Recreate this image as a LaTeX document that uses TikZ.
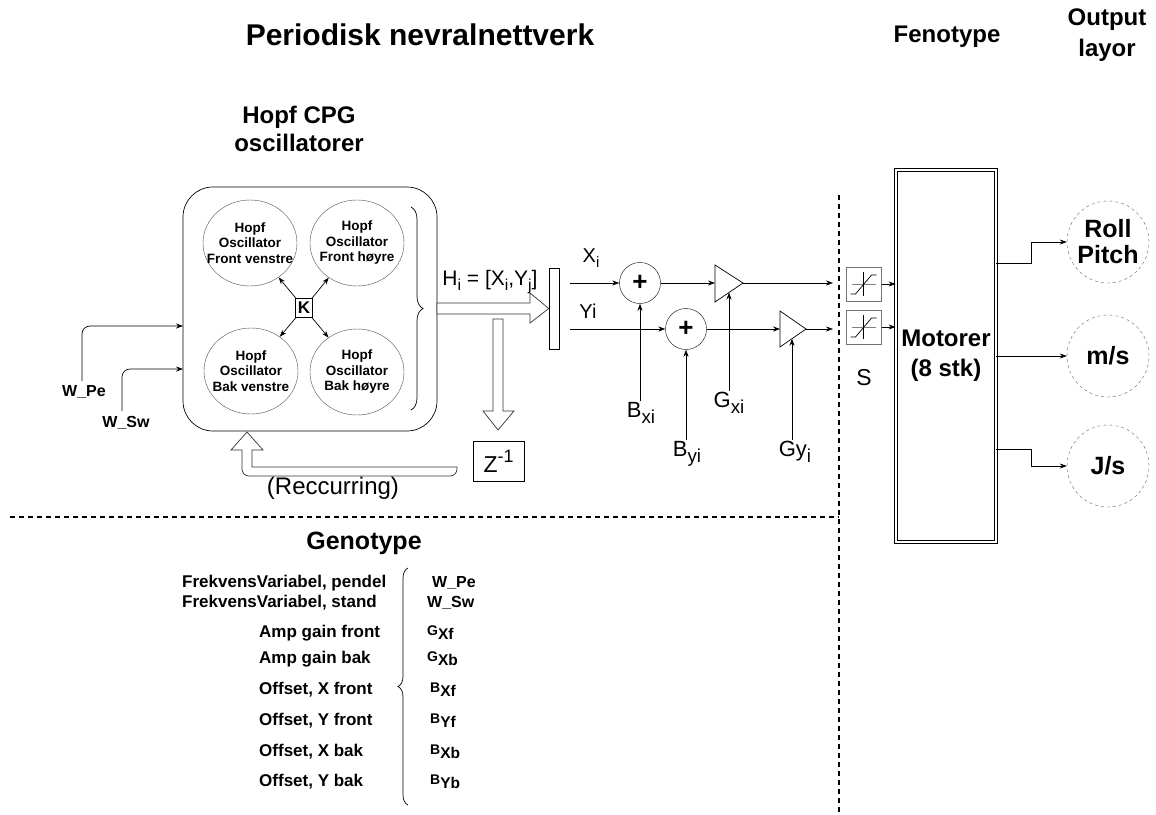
\documentclass[tikz,border=0pt]{standalone}
\usepackage{fontspec}
\setmainfont{Liberation Sans}
\usetikzlibrary{arrows.meta,shapes.geometric,decorations.pathreplacing}
\newcommand\fsz[2]{\fontsize{#1}{#2}\selectfont}
\newcommand\sbs[1]{\raisebox{-0.28em}{\scalebox{0.75}{#1}}}
\newcommand\sbl[1]{\raisebox{-0.28em}{\scalebox{0.85}{#1}}}
\newcommand\sps[1]{\raisebox{0.42em}{\scalebox{0.78}{#1}}}
\newcommand\gx[2]{{\fsz{14}{14}#1}\raisebox{-4pt}{\fsz{15.5}{15.5}\bfseries #2}}
\begin{document}
\begin{tikzpicture}[x=1pt,y=-1pt,
  ar/.style={-{Stealth[length=7pt,width=5pt]}, line width=0.7pt},
  osci/.style={draw=black!70, ellipse, minimum width=94, minimum height=86, inner sep=0},
  osctxt/.style={align=center, inner sep=0, font=\fsz{13.5}{15.5}\bfseries},
  hollow/.style={draw=black!80, fill=white, line width=0.7pt},
  sumc/.style={draw, circle, minimum size=41, inner sep=0, font=\fsz{26}{26}\bfseries},
  sig/.style={font=\fsz{20}{20}, inner sep=1pt},
  par/.style={font=\fsz{22}{22}, inner sep=1pt},
  outc/.style={draw=black!60, dashed, circle, minimum size=82, inner sep=0, align=center, font=\fsz{25}{26}\bfseries},
  dashline/.style={dash pattern=on 5pt off 4pt, line width=1.6pt},
  gl/.style={anchor=west, font=\fsz{17}{17}\bfseries, inner sep=0},
  gr/.style={anchor=west, font=\fsz{16}{16}\bfseries, inner sep=0}
]
\useasboundingbox (0,0) rectangle (1156,814);

% titles
\node[font=\fsz{30}{33}\bfseries] (title) at (420,35) {Periodisk nevralnettverk};
\node[align=center, font=\fsz{24}{28}\bfseries] (cpg) at (299,129) {Hopf CPG\\oscillatorer};
\node[font=\fsz{24}{28}\bfseries] (feno) at (947,37) {Fenotype};
\node[align=center, font=\fsz{24}{31}\bfseries] (outl) at (1107,35) {Output\\layor};

% oscillator block
\node[draw, rounded corners=30, minimum width=254, minimum height=244, line width=0.7pt] (osc) at (310,309) {};
\node[osci] (fv) at (250,243) {};
\node[osci] (fh) at (357,243) {};
\node[osci] (bv) at (251,371) {};
\node[osci] (bh) at (357,372) {};
\node[osctxt] (fvt) at (fv) {Hopf\\Oscillator\\Front venstre};
\node[osctxt] (fht) at (fh) {Hopf\\Oscillator\\Front høyre};
\node[osctxt] (bvt) at (bv) {Hopf\\Oscillator\\Bak venstre};
\node[osctxt] (bht) at (bh) {Hopf\\Oscillator\\Bak høyre};
\node[draw, minimum width=17, minimum height=19, inner sep=0, font=\fsz{17}{17}\bfseries] (K) at (304,308) {K};
\draw[ar] (K) -- (fv);
\draw[ar] (K) -- (fh);
\draw[ar] (K) -- (bv);
\draw[ar] (K) -- (bh);
\draw[decorate, decoration={brace, amplitude=12pt}, line width=0.7pt] (411,207) -- (411,410);

% inputs
\node[font=\fsz{16}{16}\bfseries] (wpe) at (84,392) {W\_Pe};
\node[font=\fsz{16}{16}\bfseries] (wsw) at (126,423) {W\_Sw};
\coordinate (inPe) at (183,326);
\coordinate (inSw) at (183,369);
\draw[ar, rounded corners=8] (82,381) |- (inPe);
\draw[ar, rounded corners=8] (122,411) |- (inSw);

% H arrow, bar
\node[draw, minimum width=10, minimum height=81, inner sep=0] (bar) at (554,308.5) {};
\draw[hollow] (437,303) -- (530,303) -- (530,293) -- (bar.west) -- (530,323) -- (530,314) -- (437,314) -- cycle;
\node[font=\fsz{21}{21}] (hlab) at (490,282) {H\sbs{i} = [X\sbs{i},Y\sbs{j}]};
\draw[hollow] (493,319) -- (493,411) -- (483,411) -- (498,430) -- (514,411) -- (503,411) -- (503,319) -- cycle;
\node[draw, minimum width=51, minimum height=40, inner sep=0, font=\fsz{23}{23}] (z) at (498.5,461) {Z\sps{-1}};
\draw[hollow] (457,467) -- (252,467) -- (252,450) -- (263,450) -- (247,432) -- (231,450) -- (242,450) {[rounded corners=7] -- (242,476) -- (457,476)} -- cycle;
\node[font=\fsz{24}{24}] (rec) at (333,488) {(Reccurring)};

% signal chain
\coordinate (xs) at (570,283);
\coordinate (ys) at (570,329);
\node[sig] (xl) at (591,258) {X\sbs{i}};
\node[sig] (yl) at (588,311) {Yi};
\node[sumc] (sA) at (640,283) {+};
\node[sumc] (sB) at (686,329) {+};
\draw[line width=0.7pt] (715,265) -- (743,283) -- (715,302) -- cycle;
\draw[line width=0.7pt] (780,311) -- (806,329) -- (780,347) -- cycle;
\coordinate (tAi) at (715,283); \coordinate (tAo) at (743,283); \coordinate (tAb) at (729,292.5);
\coordinate (tBi) at (780,329); \coordinate (tBo) at (806,329); \coordinate (tBb) at (792,338.7);
\coordinate (eA) at (833,283); \coordinate (eB) at (833,329);
\draw[ar] (xs) -- (sA);
\draw[ar] (sA) -- (tAi);
\draw[ar] (tAo) -- (eA);
\draw[ar] (ys) -- (sB);
\draw[ar] (sB) -- (tBi);
\draw[ar] (tBo) -- (eB);
\node[par] (bxi) at (641,413) {B\sbl{xi}};
\node[par] (byi) at (687,454) {B\sbl{yi}};
\node[par] (gxi) at (729,403) {G\sbl{xi}};
\node[par] (gyi) at (795,452) {Gy\sbl{i}};
\draw[ar] (bxi.north -| sA) -- (sA.south);
\draw[ar] (byi.north -| sB) -- (sB.south);
\draw[ar] (gxi.north -| tAb) -- (tAb);
\draw[ar] (gyi.north -| tBb) -- (tBb);

% dashed separators
\draw[dashline] (839,195) -- (839,814);
\draw[dashline] (10,517) -- (839,517);

% saturation blocks
\node[draw=black!55, line width=1pt, minimum width=35, minimum height=34, inner sep=0] (satA) at (863.5,284) {};
\node[draw=black!55, line width=1pt, minimum width=35, minimum height=34, inner sep=0] (satB) at (863.5,327) {};
\foreach \s in {satA,satB}{
  \begin{scope}[shift={(\s.center)}]
    \draw[black!50, line width=0.7pt] (-12,0) -- (12,0);
    \draw[line width=0.7pt] (0,-12) -- (0,12);
    \draw[line width=0.7pt] (-13,10) -- (-8,10) -- (8,-9) -- (13,-9);
  \end{scope}
}
\node[font=\fsz{23}{23}] (S) at (864,378) {S};

% motors
\node[draw, double, double distance=1.5pt, line width=0.8pt, minimum width=100, minimum height=372, inner sep=0, align=center, font=\fsz{24}{30}\bfseries] (mot) at (946,356) {Motorer\\(8 stk)};
\draw[ar] (satA.east) -- (satA.east -| mot.west);
\draw[ar] (satB.east) -- (satB.east -| mot.west);

% outputs
\node[outc] (rp) at (1108,242) {Roll\\Pitch};
\node[outc] (ms) at (1108,356) {m/s};
\node[outc] (js) at (1108,466) {J/s};
\draw[ar] (mot.east) ++(0,-93) -- ++(35,0) |- (rp.west);
\draw[ar] (mot.east) -- (ms.west);
\draw[ar] (mot.east) ++(0,93) -- ++(35,0) |- (js.west);

% genotype
\node[font=\fsz{25}{25}\bfseries] (geno) at (364,543) {Genotype};
\node[gl] (l1) at (182,583) {FrekvensVariabel, pendel};
\node[gl] (l2) at (182,603) {FrekvensVariabel, stand};
\node[gl] (l3) at (259,633) {Amp gain front};
\node[gl] (l4) at (259,659) {Amp gain bak};
\node[gl] (l5) at (259,690) {Offset, X front};
\node[gl] (l6) at (259,721) {Offset, Y front};
\node[gl] (l7) at (259,752) {Offset, X bak};
\node[gl] (l8) at (259,782) {Offset, Y bak};
\draw[decorate, decoration={brace, amplitude=10pt}, line width=0.7pt] (408,805) -- (408,568);
\node[gr] (r1) at (432,583) {W\_Pe};
\node[gr] (r2) at (427,603) {W\_Sw};
\node[gr] (r3) at (427,633) {\gx{G}{Xf}};
\node[gr] (r4) at (427,659) {\gx{G}{Xb}};
\node[gr] (r5) at (430,690) {\gx{B}{Xf}};
\node[gr] (r6) at (430,721) {\gx{B}{Yf}};
\node[gr] (r7) at (430,752) {\gx{B}{Xb}};
\node[gr] (r8) at (430,782) {\gx{B}{Yb}};
\end{tikzpicture}
\end{document}
